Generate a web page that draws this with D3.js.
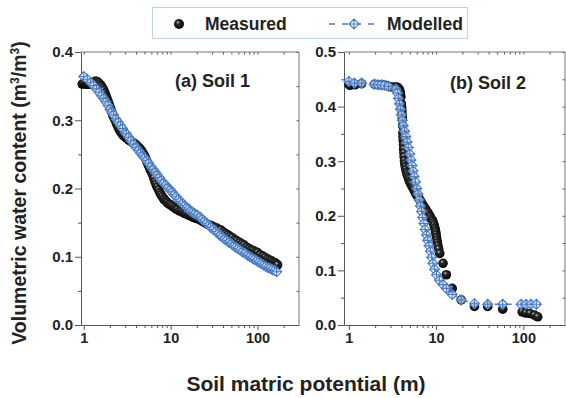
<!DOCTYPE html>
<html>
<head>
<meta charset="utf-8">
<script src="https://cdn.jsdelivr.net/npm/d3@7"></script>
<style>
  body { margin: 0; background: #fff; }
  svg { font-family: Arial, "Liberation Sans", sans-serif; font-weight: bold; }
</style>
</head>
<body>
<svg id="chart" width="566" height="398"></svg>
<script>
// Soil 1 (panel a)
const soil1MeasH = [0.96, 1.0, 1.05, 1.1, 1.15, 1.2, 1.25, 1.3, 1.35, 1.4, 1.45, 1.5, 1.55, 1.6, 1.65, 1.7, 1.75, 1.8, 1.85, 1.9, 1.95, 2.0, 2.05, 2.1, 2.15, 2.2, 2.3, 2.4, 2.5, 2.6, 2.7, 2.8, 2.9, 3.0, 3.1, 3.2, 3.3, 3.4, 3.5, 3.6, 3.7, 3.8, 3.9, 4.0, 4.15, 4.3, 4.45, 4.6, 4.75, 4.9, 5.05, 5.2, 5.35, 5.5, 5.65, 5.8, 6.0, 6.2, 6.4, 6.6, 6.8, 7.0, 7.25, 7.5, 7.75, 8.0, 8.3, 8.6, 8.9, 9.2, 9.6, 10, 10.5, 11, 11.5, 12, 12.7, 13.5, 14.2, 15, 16, 17, 18, 19, 20, 21, 22.5, 24, 25.5, 27, 28.5, 30, 32, 34, 36, 38, 40.5, 43, 45.5, 48, 51, 55, 58, 62, 66, 70, 75, 80, 85, 90, 95, 100, 107, 115, 122, 130, 137, 145, 152, 160, 165, 170];
const soil1MeasTheta = [0.353, 0.354, 0.353, 0.353, 0.353, 0.354, 0.355, 0.356, 0.357, 0.357, 0.356, 0.354, 0.352, 0.350, 0.347, 0.344, 0.340, 0.336, 0.332, 0.328, 0.324, 0.320, 0.316, 0.312, 0.308, 0.305, 0.300, 0.294, 0.289, 0.285, 0.282, 0.279, 0.277, 0.276, 0.274, 0.273, 0.271, 0.270, 0.269, 0.268, 0.267, 0.266, 0.265, 0.264, 0.262, 0.260, 0.258, 0.256, 0.253, 0.250, 0.247, 0.243, 0.239, 0.235, 0.232, 0.228, 0.224, 0.220, 0.215, 0.210, 0.206, 0.202, 0.198, 0.194, 0.191, 0.188, 0.185, 0.183, 0.181, 0.179, 0.177, 0.176, 0.174, 0.172, 0.170, 0.169, 0.167, 0.166, 0.164, 0.163, 0.161, 0.160, 0.158, 0.157, 0.156, 0.155, 0.153, 0.151, 0.149, 0.147, 0.146, 0.145, 0.143, 0.142, 0.140, 0.139, 0.136, 0.134, 0.132, 0.130, 0.128, 0.125, 0.123, 0.121, 0.119, 0.117, 0.114, 0.112, 0.110, 0.109, 0.107, 0.106, 0.103, 0.101, 0.099, 0.097, 0.095, 0.094, 0.092, 0.091, 0.089, 0.088];
const soil1ModH = [1.0, 1.1, 1.2, 1.3, 1.4, 1.5, 1.6, 1.7, 1.8, 1.9, 2.0, 2.1, 2.2, 2.35, 2.5, 2.65, 2.8, 3.0, 3.1, 3.3, 3.5, 3.75, 4.0, 4.25, 4.5, 4.75, 5.0, 5.3, 5.6, 5.95, 6.3, 6.65, 7.0, 7.4, 7.8, 8.3, 8.8, 9.3, 9.9, 10.4, 11, 11.6, 12.3, 13, 13.7, 14.5, 15.3, 16.2, 17, 18, 19, 20.3, 21.8, 23, 24.5, 26, 27.5, 29, 31, 33, 35, 37, 39, 41.5, 44, 47, 50, 53, 56, 59.5, 63, 67, 72, 77, 82, 87, 92, 98, 104, 110, 117, 124, 132, 140, 148, 157, 166];
const soil1ModTheta = [0.364, 0.360, 0.355, 0.351, 0.346, 0.341, 0.336, 0.332, 0.327, 0.322, 0.316, 0.312, 0.308, 0.302, 0.297, 0.292, 0.288, 0.282, 0.280, 0.275, 0.270, 0.265, 0.260, 0.256, 0.252, 0.248, 0.245, 0.241, 0.237, 0.232, 0.228, 0.224, 0.220, 0.216, 0.212, 0.208, 0.205, 0.201, 0.198, 0.195, 0.191, 0.188, 0.184, 0.181, 0.178, 0.175, 0.172, 0.170, 0.167, 0.165, 0.163, 0.161, 0.158, 0.155, 0.152, 0.149, 0.146, 0.143, 0.140, 0.137, 0.134, 0.131, 0.129, 0.126, 0.124, 0.121, 0.119, 0.116, 0.114, 0.112, 0.110, 0.107, 0.105, 0.102, 0.100, 0.098, 0.096, 0.094, 0.092, 0.090, 0.088, 0.086, 0.084, 0.083, 0.081, 0.080, 0.078];

// Soil 2 (panel b)
const soil2MeasH = [1.0, 1.03, 1.17, 1.4, 1.97, 2.2, 2.4, 2.6, 2.85, 3.1, 3.35, 3.55, 3.7, 3.8, 3.85, 3.9, 3.95, 4.0, 4.03, 4.05, 4.08, 4.1, 4.13, 4.16, 4.18, 4.2, 4.23, 4.25, 4.28, 4.3, 4.34, 4.38, 4.44, 4.5, 4.58, 4.65, 4.75, 4.85, 4.95, 5.05, 5.15, 5.3, 5.45, 5.6, 5.75, 5.9, 6.1, 6.3, 6.5, 6.7, 6.9, 7.1, 7.35, 7.6, 7.85, 8.1, 8.35, 8.6, 8.85, 9.1, 9.3, 9.5, 9.65, 9.8, 9.9, 10.0, 10.1, 10.2, 10.35, 10.5, 10.7, 11.0, 12.0, 13.1, 15.3, 19.4, 27.5, 39, 58, 97, 107, 119, 134, 146];
const soil2MeasTheta = [0.441, 0.439, 0.440, 0.442, 0.441, 0.440, 0.440, 0.439, 0.437, 0.436, 0.436, 0.436, 0.434, 0.431, 0.428, 0.423, 0.418, 0.405, 0.398, 0.392, 0.385, 0.378, 0.365, 0.352, 0.345, 0.338, 0.330, 0.322, 0.315, 0.308, 0.301, 0.295, 0.290, 0.285, 0.280, 0.276, 0.272, 0.268, 0.264, 0.261, 0.258, 0.254, 0.251, 0.247, 0.243, 0.240, 0.236, 0.233, 0.229, 0.226, 0.222, 0.219, 0.215, 0.212, 0.208, 0.205, 0.201, 0.198, 0.194, 0.191, 0.187, 0.183, 0.178, 0.174, 0.170, 0.165, 0.160, 0.155, 0.150, 0.145, 0.139, 0.131, 0.113, 0.092, 0.067, 0.046, 0.034, 0.034, 0.029, 0.024, 0.022, 0.021, 0.018, 0.015];
const soil2ModH = [1.0, 1.16, 1.4, 1.95, 2.15, 2.35, 2.55, 2.85, 3.45, 3.6, 3.7, 3.8, 3.9, 4.0, 4.1, 4.2, 4.35, 4.5, 4.65, 4.8, 5.0, 5.15, 5.3, 5.45, 5.6, 5.8, 6.0, 6.2, 6.4, 6.6, 6.8, 7.0, 7.25, 7.5, 7.75, 8.0, 8.3, 8.6, 8.9, 9.2, 9.6, 10.1, 10.9, 12.0, 13.1, 15.3, 19.4, 27.5, 39, 58, 94, 107, 122, 141];
const soil2ModTheta = [0.446, 0.443, 0.443, 0.441, 0.440, 0.440, 0.439, 0.437, 0.432, 0.425, 0.415, 0.405, 0.395, 0.385, 0.375, 0.365, 0.355, 0.345, 0.335, 0.325, 0.313, 0.302, 0.292, 0.282, 0.272, 0.262, 0.250, 0.240, 0.229, 0.218, 0.208, 0.197, 0.186, 0.175, 0.165, 0.155, 0.145, 0.135, 0.124, 0.113, 0.102, 0.092, 0.082, 0.074, 0.067, 0.056, 0.046, 0.039, 0.038, 0.038, 0.038, 0.038, 0.038, 0.038];

const xTicks = [1, 10, 100];
const yTicks1 = [0, 0.1, 0.2, 0.3, 0.4];
const yTicks2 = [0, 0.1, 0.2, 0.3, 0.4, 0.5];
const panelLabels = ["(a) Soil 1", "(b) Soil 2"];
const legendNames = ["Measured", "Modelled"];

const blue = "#4a7cc2";
const axisColor = "#555";

const svg = d3.select("#chart");

const defs = svg.append("defs");
const grad = defs.append("radialGradient")
  .attr("id", "ball").attr("cx", "0.45").attr("cy", "0.4").attr("r", "0.6")
  .attr("fx", "0.38").attr("fy", "0.32");
grad.append("stop").attr("offset", "0%").attr("stop-color", "#c8c8c8");
grad.append("stop").attr("offset", "30%").attr("stop-color", "#2a2a2a");
grad.append("stop").attr("offset", "100%").attr("stop-color", "#000");

const diamond = "M0,-5L5,0L0,5L-5,0Z M-5,0H5 M0,-5V5";

const panels = [
  { left: 81, right: 299, xDom: [0.93, 300], yMax: 0.4, yTicks: yTicks1,
    mh: soil1MeasH, mt: soil1MeasTheta, oh: soil1ModH, ot: soil1ModTheta, label: panelLabels[0], lx: 175, ly: 87 },
  { left: 344, right: 565, xDom: [0.88, 300], yMax: 0.5, yTicks: yTicks2,
    mh: soil2MeasH, mt: soil2MeasTheta, oh: soil2ModH, ot: soil2ModTheta, label: panelLabels[1], lx: 450, ly: 89 }
];
const plotTop = 52, plotBottom = 325;

panels.forEach(function (p) {
  const x = d3.scaleLog().domain(p.xDom).range([p.left, p.right]);
  const y = d3.scaleLinear().domain([0, p.yMax]).range([plotBottom, plotTop]);
  const g = svg.append("g");

  // minor ticks
  const xMinor = [];
  [1, 10, 100].forEach(function (dec) {
    for (let k = 2; k <= 9; k++) {
      const v = dec * k;
      if (v > p.xDom[0] && v < p.xDom[1]) xMinor.push(v);
    }
  });
  const yMinor = d3.range(0.05, p.yMax, 0.1);

  g.append("g")
    .attr("transform", "translate(0," + plotBottom + ")")
    .call(d3.axisBottom(x).tickValues(xMinor).tickSize(3).tickFormat(""))
    .call(a => a.select(".domain").remove());
  g.append("g")
    .attr("transform", "translate(" + p.left + ",0)")
    .call(d3.axisLeft(y).tickValues(yMinor).tickSize(3).tickFormat(""))
    .call(a => a.select(".domain").remove());

  // mirrored inward ticks on top and right
  g.append("g")
    .attr("transform", "translate(0," + plotTop + ")")
    .call(d3.axisBottom(x).tickValues(xTicks.concat(xMinor)).tickSize(2.5).tickFormat(""))
    .call(a => a.select(".domain").remove());
  g.append("g")
    .attr("transform", "translate(" + p.right + ",0)")
    .call(d3.axisLeft(y).tickValues(p.yTicks.concat(yMinor)).tickSize(2.5).tickFormat(""))
    .call(a => a.select(".domain").remove());

  // main axes
  g.append("g")
    .attr("transform", "translate(0," + plotBottom + ")")
    .call(d3.axisBottom(x).tickValues(xTicks).tickSize(5).tickPadding(3).tickFormat(d3.format("d")).tickSizeOuter(0))
    .selectAll("text").attr("font-size", 14.5).attr("font-weight", "bold").attr("fill", "#222");
  g.append("g")
    .attr("transform", "translate(" + p.left + ",0)")
    .call(d3.axisLeft(y).tickValues(p.yTicks).tickSize(6).tickPadding(2).tickFormat(d3.format(".1f")).tickSizeOuter(0))
    .selectAll("text").attr("font-size", 15).attr("font-weight", "bold").attr("fill", "#222");

  // frame top and right
  g.append("path")
    .attr("d", "M" + p.left + "," + plotTop + "H" + p.right + "V" + plotBottom)
    .attr("fill", "none").attr("stroke", "#777").attr("stroke-width", 1);

  g.selectAll(".tick line").attr("stroke", axisColor);
  g.selectAll(".domain").attr("stroke", axisColor);

  // measured spheres
  g.selectAll("circle.meas")
    .data(d3.range(p.mh.length))
    .enter().append("circle")
    .attr("class", "meas")
    .attr("cx", i => x(p.mh[i]))
    .attr("cy", i => y(p.mt[i]))
    .attr("r", 4.8)
    .attr("fill", "url(#ball)");

  // modelled dashed line + markers
  const line = d3.line().x(i => x(p.oh[i])).y(i => y(p.ot[i]));
  g.append("path")
    .attr("d", line(d3.range(p.oh.length)))
    .attr("fill", "none").attr("stroke", blue).attr("stroke-width", 1.3)
    .attr("stroke-dasharray", "6,5");
  g.selectAll("path.mod")
    .data(d3.range(p.oh.length))
    .enter().append("path")
    .attr("class", "mod")
    .attr("d", diamond)
    .attr("transform", i => "translate(" + x(p.oh[i]) + "," + y(p.ot[i]) + ")")
    .attr("fill", "#eef3fb").attr("fill-opacity", 0.7)
    .attr("stroke", blue).attr("stroke-width", 1.1);

  g.append("text")
    .attr("x", p.lx).attr("y", p.ly)
    .attr("font-size", 18).attr("fill", "#222")
    .text(p.label);
});

// axis titles
svg.append("text")
  .attr("x", 306).attr("y", 391)
  .attr("text-anchor", "middle").attr("font-size", 21).attr("fill", "#222")
  .text("Soil matric potential (m)");

const yt = svg.append("text")
  .attr("transform", "translate(26,193) rotate(-90)")
  .attr("text-anchor", "middle").attr("font-size", 19.5).attr("fill", "#222");
yt.append("tspan").text("Volumetric water content (m");
yt.append("tspan").attr("dy", -7).attr("font-size", 12).text("3");
yt.append("tspan").attr("dy", 7).text("/m");
yt.append("tspan").attr("dy", -7).attr("font-size", 12).text("3");
yt.append("tspan").attr("dy", 7).text(")");

// legend
const lg = svg.append("g");
lg.append("rect")
  .attr("x", 152.5).attr("y", 7.5).attr("width", 315).attr("height", 31)
  .attr("fill", "#fff").attr("stroke", "#b9d3ee").attr("stroke-width", 1);
lg.append("circle").attr("cx", 179).attr("cy", 24).attr("r", 5).attr("fill", "url(#ball)");
lg.append("text").attr("x", 205).attr("y", 30).attr("font-size", 17.5).attr("fill", "#222").text(legendNames[0]);
lg.append("path").attr("d", "M329,24H379")
  .attr("stroke", blue).attr("stroke-width", 1.3).attr("stroke-dasharray", "6,7");
lg.append("path").attr("d", diamond).attr("transform", "translate(354,24)")
  .attr("fill", "#fff").attr("stroke", blue).attr("stroke-width", 1.1);
lg.append("text").attr("x", 387).attr("y", 30).attr("font-size", 17.5).attr("fill", "#222").text(legendNames[1]);
</script>
</body>
</html>
